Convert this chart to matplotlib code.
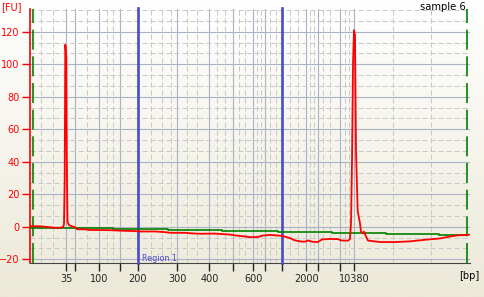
import numpy as np
import matplotlib
matplotlib.use("Agg")
import matplotlib.pyplot as plt
from matplotlib.colors import LinearSegmentedColormap

# Electropherogram, sample 6 (time axis in seconds, ladder sizes as tick labels)
ladder_bp = [35, 50, 100, 150, 200, 300, 400, 500, 600, 700, 1000, 2000, 3000, 7000, 10380]
ladder_time = [23.63, 24.53, 26.93, 28.97, 30.8, 34.73, 37.93, 40.33, 42.33, 43.53,
               45.2, 47.63, 48.8, 51.03, 52.43]
shown_bp = [35, 100, 200, 300, 400, 600, 2000, 10380]

minor_time = [21.07, 22.33, 25.73, 27.73, 28.27, 32.1, 33.2, 34.13, 35.73, 36.73,
              38.73, 39.53, 40.93, 41.53, 42.73, 43.13, 44.03, 44.57, 46.0, 46.83,
              48.03, 48.43, 49.33, 50.0, 51.47, 51.9, 56.27, 60.13]

# measured signal [FU]
sig_time = [20.0, 20.5, 21.0, 21.5, 22.0, 22.5, 23.0, 23.3, 23.4, 23.47, 23.53, 23.63,
            23.68, 23.75, 23.9, 24.2, 24.5, 24.7, 25.5, 26.0, 27.0, 28.0, 29.0, 30.3,
            31.0, 32.5, 33.5, 34.0, 35.5, 36.0, 37.0, 38.5, 40.0, 40.5, 41.5, 42.0,
            42.8, 43.2, 44.0, 44.6, 45.2, 45.6, 46.0, 46.5, 47.0, 47.5, 47.8, 48.2,
            48.8, 49.2, 50.0, 50.8, 51.1, 51.8, 52.0, 52.1, 52.2, 52.3, 52.4, 52.5,
            52.6, 52.77, 53.0, 53.1, 53.3, 53.4, 53.6, 53.8, 54.2, 55.0, 56.5, 58.0,
            59.5, 61.0, 62.0, 62.7, 63.2, 63.9]
sig_fu = [0.3, 0.3, 0.3, 0.0, -0.3, -0.6, -0.6, -0.3, 1.5, 30, 112, 105,
          43, 3, 1.0, 0.3, -0.3, -1.5, -1.6, -2.0, -2.0, -2.1, -2.4, -2.6,
          -2.9, -2.9, -3.3, -3.7, -3.7, -4.0, -4.3, -4.2, -4.8, -5.3, -6.0, -6.4,
          -6.3, -5.5, -5.0, -5.3, -5.6, -6.3, -7.0, -8.4, -9.0, -9.2, -8.4, -9.2,
          -9.4, -7.8, -7.5, -7.6, -8.4, -8.6, -7.5, 2, 40, 100, 121, 118,
          47, 9.6, 2, -3, -4, -3, -6, -8.5, -8.8, -9.4, -9.4, -9.0,
          -8.0, -7.2, -6.0, -5.3, -5.2, -4.9]

# fitted baseline [FU]
base_time = [20.0, 28.3, 33.8, 39.2, 44.8, 50.2, 55.6, 60.9, 63.7]
base_fu = [-0.6, -1.2, -2.0, -2.8, -3.4, -4.1, -4.7, -5.3, -5.3]

region_time = [30.8, 45.2]
marker_time = [20.33, 63.73]

W, H = 485, 297
fig = plt.figure(figsize=(W / 100, H / 100), dpi=100)

# window background gradient
bg = fig.add_axes([0, 0, 1, 1], zorder=-10)
cmap = LinearSegmentedColormap.from_list("bg", ["#FFFFFF", "#ECE9D8"])
bg.imshow(np.linspace(0, 1, 256).reshape(-1, 1), aspect="auto", cmap=cmap,
          extent=[0, 1, 0, 1])
bg.set_axis_off()

ax = fig.add_axes([30 / W, (H - 263) / H, 440 / W, 254 / H])
ax.set_facecolor("none")
ax.set_xlim(20, 64)
ax.set_ylim(-22.3, 134)

ax.set_xticks(ladder_time)
ax.set_xticklabels([str(b) if b in shown_bp else "" for b in ladder_bp])
ax.set_xticks(minor_time, minor=True)
ax.set_yticks(np.arange(-20, 121, 20))
ax.set_yticks([v for v in np.arange(-20, 134, 20 / 3) if round(v, 3) % 20 != 0], minor=True)

ax.grid(which="major", color="#AAB3C5", linewidth=0.8, linestyle="-")
ax.grid(which="minor", color="#C8C8C8", linewidth=0.72, linestyle=(0, (5, 3)))
ax.set_axisbelow(True)

ax.tick_params(which="minor", length=0)
ax.tick_params(axis="y", which="major", colors="red", length=6, width=1,
               labelsize=7, pad=1.5)
ax.tick_params(axis="x", which="major", colors="#222222", length=6, width=1,
               labelsize=7, pad=2)
for s in ["top", "right"]:
    ax.spines[s].set_visible(False)
ax.spines["left"].set_color("red")
ax.spines["left"].set_linewidth(1.2)
ax.spines["bottom"].set_color("#444444")

for t in marker_time:
    ax.axvline(t, color="#008000", linewidth=1.2, linestyle=(0, (12, 4)), zorder=3)
for t in region_time:
    ax.axvline(t, color="#4B4BC8", linewidth=1.9, zorder=4, clip_on=False, ymax=1.004)

ax.plot(base_time, base_fu, color="#008000", linewidth=1.2, drawstyle="steps-post", zorder=5)
ax.plot(sig_time, sig_fu, color="red", linewidth=1.3, zorder=6)

ax.text(31.25, -21.1, "Region 1", color="#4B4BC8", fontsize=5.8, va="baseline", zorder=7)

fig.text(1 / W, 1 - 2 / H, "[FU]", color="red", fontsize=7, ha="left", va="top")
fig.text(466 / W, 1 - 2 / H, "sample 6", color="black", fontsize=7.2, ha="right", va="top")
fig.text(479 / W, 1 - 271 / H, "[bp]", color="black", fontsize=7, ha="right", va="top")

fig.savefig("out.png", dpi=100)
